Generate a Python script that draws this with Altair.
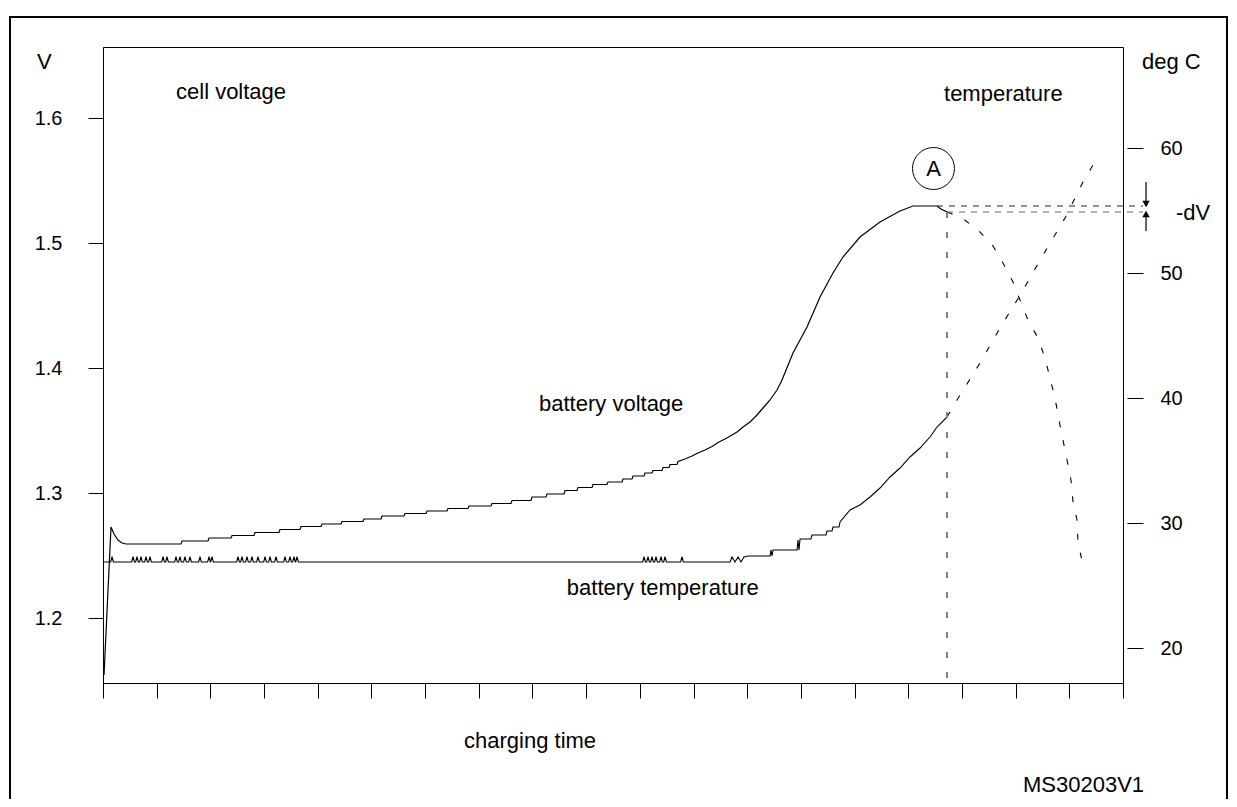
import altair as alt
import pandas as pd

FONT = "Liberation Sans"

# ---------------- data (x = charging time in tick units, 0..19) ----------------
volt_t = [0.019, 0.149, 0.205, 0.279, 0.354, 0.428, 1.453, 1.472, 1.956, 1.975,
          2.384, 2.403, 2.813, 2.831, 3.278, 3.297, 3.670, 3.688, 4.061, 4.079,
          4.433, 4.452, 4.843, 4.862, 5.178, 5.197, 5.607, 5.626, 6.017, 6.035,
          6.408, 6.427, 6.799, 6.818, 7.228, 7.246, 7.600, 7.619, 7.973, 7.991,
          8.252, 8.271, 8.587, 8.606, 8.829, 8.848, 9.109, 9.127, 9.388, 9.407,
          9.668, 9.686, 9.854, 9.873, 10.078, 10.096, 10.227, 10.245, 10.413, 10.431,
          10.543, 10.562, 10.692, 10.711, 10.841, 10.972, 11.083, 11.214, 11.344, 11.456,
          11.586, 11.717, 11.810, 11.922, 12.052, 12.183, 12.294, 12.425, 12.555, 12.648,
          12.853, 13.114, 13.356, 13.598, 13.784, 14.101, 14.473, 14.846, 15.088, 15.535,
          15.610, 15.722]
volt_v = [1.1544, 1.2728, 1.2672, 1.2624, 1.2600, 1.2592, 1.2592, 1.2616, 1.2616, 1.2640,
          1.2640, 1.2660, 1.2660, 1.2684, 1.2684, 1.2708, 1.2708, 1.2732, 1.2732, 1.2752,
          1.2752, 1.2772, 1.2772, 1.2792, 1.2792, 1.2816, 1.2816, 1.2836, 1.2836, 1.2856,
          1.2856, 1.2876, 1.2876, 1.2896, 1.2896, 1.2916, 1.2916, 1.2940, 1.2940, 1.2968,
          1.2968, 1.2992, 1.2992, 1.3020, 1.3020, 1.3044, 1.3044, 1.3068, 1.3068, 1.3088,
          1.3088, 1.3112, 1.3112, 1.3136, 1.3136, 1.3160, 1.3160, 1.3180, 1.3180, 1.3204,
          1.3204, 1.3228, 1.3228, 1.3252, 1.3272, 1.3296, 1.3320, 1.3344, 1.3372, 1.3404,
          1.3432, 1.3464, 1.3488, 1.3528, 1.3568, 1.3624, 1.3680, 1.3744, 1.3824, 1.3904,
          1.4120, 1.4328, 1.4568, 1.4760, 1.4888, 1.5048, 1.5168, 1.5256, 1.5296, 1.5296,
          1.5272, 1.5248]

# voltage after the peak (-dV), dashed
vdrop_t = [15.722, 16.001, 16.299, 16.578, 16.765, 16.951, 17.081, 17.230, 17.417, 17.547,
           17.640, 17.733, 17.808, 17.882, 17.957, 18.031, 18.069, 18.143, 18.162, 18.237]
vdrop_v = [1.5248, 1.5200, 1.5104, 1.4976, 1.4840, 1.4688, 1.4544, 1.4384, 1.4240, 1.4080,
           1.3920, 1.3760, 1.3584, 1.3424, 1.3264, 1.3104, 1.2928, 1.2784, 1.2608, 1.2456]

# temperature: flat baseline with small noise spikes, then rise
temp_base = 26.88
temp_spike = 27.3
temp_spike_t = [0.168, 0.559, 0.633, 0.708, 0.801, 0.876, 1.118, 1.192, 1.360, 1.434,
                1.527, 1.621, 1.807, 1.975, 2.030, 2.515, 2.589, 2.682, 2.775, 2.887,
                3.018, 3.111, 3.223, 3.390, 3.483, 3.558, 3.614, 10.078, 10.152, 10.227,
                10.301, 10.394, 10.469, 10.785]
temp_rise_t = [11.680, 11.717, 11.773, 11.829, 11.884, 11.940, 12.015, 12.425, 12.443, 12.462,
               12.481, 12.928, 12.946, 12.965, 12.984, 13.188, 13.207, 13.468, 13.487, 13.580,
               13.598, 13.710, 13.729, 13.915, 14.101, 14.288, 14.473, 14.660, 14.846, 15.032,
               15.219, 15.405, 15.535, 15.722]
temp_rise_T = [26.88, 27.28, 26.88, 27.28, 26.88, 27.28, 27.36, 27.36, 27.84, 27.36,
               27.84, 27.84, 28.64, 27.84, 28.72, 28.72, 29.04, 29.04, 29.36, 29.36,
               29.68, 29.68, 30.08, 31.04, 31.44, 32.08, 32.80, 33.68, 34.40, 35.28,
               36.00, 36.88, 37.68, 38.48]

# temperature continuation, dashed
tcont_t = [15.722, 15.908, 16.337, 16.709, 17.119, 17.510, 17.920, 18.255, 18.516]
tcont_T = [38.48, 39.84, 42.80, 45.60, 48.48, 51.44, 54.40, 57.28, 59.20]

# -dV reference lines
hline_group = ["peak", "peak", "now", "now"]
hline_t = [15.535, 19.373, 15.722, 19.373]
hline_v = [1.5296, 1.5296, 1.5248, 1.5248]
vline_t = [15.722]
vline_v = [1.5248]
vline_v2 = [1.148]

# arrows for -dV
arrow_t = [19.429, 19.429]
arrow_v1 = [1.5488, 1.5096]
arrow_v2 = [1.5330, 1.5215]
head_v = [1.5312, 1.5232]
head_shape = ["triangle-down", "triangle-up"]

# labels
label_text = ["V", "cell voltage", "temperature", "deg C", "battery voltage",
              "battery temperature", "charging time", "MS30203V1", "-dV"]
label_t = [-1.229, 1.360, 15.666, 19.354, 8.122, 8.640, 6.725, 17.137, 19.987]
label_v = [1.6448, 1.6208, 1.6192, 1.6448, 1.3712, 1.2240, 1.1016, 1.0664, 1.5240]
circle_t = [15.470]
circle_v = [1.5596]
circle_text = ["A"]

x_ticks = list(range(20))
v_ticks = [1.2, 1.3, 1.4, 1.5, 1.6]
t_ticks = [20, 30, 40, 50, 60]
X_DOMAIN = [0, 19]
V_DOMAIN = [1.148, 1.6568]
T_DOMAIN = [17.2, 68.08]

# ---------------- tables ----------------
assert len(volt_t) == len(volt_v)
assert len(vdrop_t) == len(vdrop_v)
assert len(temp_rise_t) == len(temp_rise_T)

volt_df = pd.DataFrame({"t": volt_t, "v": volt_v, "o": range(len(volt_t))})
vdrop_df = pd.DataFrame({"t": vdrop_t, "v": vdrop_v, "o": range(len(vdrop_t))})

tt, TT = [0.0], [temp_base]
for c in temp_spike_t:
    tt += [c - 0.025, c, c + 0.025]
    TT += [temp_base, temp_spike, temp_base]
tt += temp_rise_t
TT += temp_rise_T
temp_df = pd.DataFrame({"t": tt, "T": TT, "o": range(len(tt))})
tcont_df = pd.DataFrame({"t": tcont_t, "T": tcont_T, "o": range(len(tcont_t))})

hline_df = pd.DataFrame({"t": hline_t, "v": hline_v, "g": hline_group})
vline_df = pd.DataFrame({"t": vline_t, "v": vline_v, "v2": vline_v2})
arrow_df = pd.DataFrame({"t": arrow_t, "v": arrow_v1, "v2": arrow_v2,
                         "hv": head_v, "shape": head_shape})
label_df = pd.DataFrame({"t": label_t, "v": label_v, "text": label_text})
circle_df = pd.DataFrame({"t": circle_t, "v": circle_v, "text": circle_text})
border_df = pd.DataFrame({"k": [0]})

xs = alt.Scale(domain=X_DOMAIN, nice=False, zero=False)
vs = alt.Scale(domain=V_DOMAIN, nice=False, zero=False)
ts = alt.Scale(domain=T_DOMAIN, nice=False, zero=False)

x_axis = alt.Axis(values=x_ticks, labels=False, ticks=True, domain=True, tickSize=15,
                  title=None, grid=False, domainColor="black", tickColor="black",
                  orient="bottom")
v_axis = alt.Axis(values=v_ticks, format=".1f", tickSize=15, labelPadding=26, title=None,
                  grid=False, domainColor="black", tickColor="black", orient="left",
                  labelFont=FONT, labelFontSize=20, labelColor="black")
t_axis = alt.Axis(values=t_ticks, format="d", tickSize=16, labelPadding=17, title=None,
                  grid=False, domain=False, tickColor="black", orient="right", offset=4,
                  labelFont=FONT, labelFontSize=20, labelColor="black")

XA = alt.X("t:Q", scale=xs, axis=x_axis)
V0 = alt.Y("v:Q", scale=vs, axis=None)

volt_line = alt.Chart(volt_df).mark_line(color="black", strokeWidth=1.2).encode(
    x=XA, y=alt.Y("v:Q", scale=vs, axis=v_axis), order="o:Q")
vdrop_line = alt.Chart(vdrop_df).mark_line(color="black", strokeWidth=1.1,
                                           strokeDash=[6, 13]).encode(
    x=XA, y=V0, order="o:Q")
hlines = alt.Chart(hline_df).mark_line(strokeWidth=1.1, strokeDash=[6, 6]).encode(
    x=XA, y=V0, detail="g:N",
    color=alt.Color("g:N", scale=alt.Scale(domain=["peak", "now"], range=["#222222", "#666666"]),
                    legend=None),
)
vline = alt.Chart(vline_df).mark_rule(color="#808080", strokeWidth=2,
                                      strokeDash=[6, 14]).encode(
    x=XA, y=V0, y2="v2:Q")
arrows = alt.Chart(arrow_df).mark_rule(color="black", strokeWidth=1.2).encode(
    x=XA, y=V0, y2="v2:Q")
heads = alt.Chart(arrow_df).mark_point(filled=True, color="black", size=55, opacity=1).encode(
    x=XA, y=alt.Y("hv:Q", scale=vs, axis=None),
    shape=alt.Shape("shape:N", scale=alt.Scale(domain=["triangle-down", "triangle-up"],
                                               range=["triangle-down", "triangle-up"]),
                    legend=None),
)
labels = alt.Chart(label_df).mark_text(align="left", baseline="middle", font=FONT,
                                       fontSize=22, color="black").encode(
    x=XA, y=V0, text="text:N")
circle = alt.Chart(circle_df).mark_point(shape="circle", size=1764, filled=False,
                                         color="black", strokeWidth=1, opacity=1).encode(
    x=XA, y=V0)
circle_txt = alt.Chart(circle_df).mark_text(align="center", baseline="middle", font=FONT,
                                            fontSize=22, color="black").encode(
    x=XA, y=V0, text="text:N")
border = alt.Chart(border_df).mark_rect(fillOpacity=0, stroke="black", strokeWidth=2).encode(
    x=alt.value(-93), x2=alt.value(1124), y=alt.value(-30), y2=alt.value(800))

temp_line = alt.Chart(temp_df).mark_line(color="black", strokeWidth=1.1).encode(
    x=XA, y=alt.Y("T:Q", scale=ts, axis=t_axis), order="o:Q")
temp_cont = alt.Chart(tcont_df).mark_line(color="black", strokeWidth=1.1,
                                          strokeDash=[6, 13]).encode(
    x=XA, y=alt.Y("T:Q", scale=ts, axis=None), order="o:Q")

chart = alt.layer(
    volt_line, temp_line, vdrop_line, temp_cont, hlines, vline, arrows, heads,
    labels, circle, circle_txt, border
).resolve_scale(
    y="independent", color="independent", shape="independent"
).properties(
    width=1020, height=636,
    padding={"left": 95, "top": 39, "right": 106, "bottom": 116},
    autosize=alt.AutoSizeParams(type="none"),
    background="white",
).configure_view(
    stroke="black", strokeWidth=1
).configure_axis(
    labelFont=FONT, labelFontSize=20, labelColor="black", domainWidth=1, tickWidth=1,
    domainColor="black", tickColor="black"
)

chart.save("out.html", embed_options={"renderer": "svg", "actions": False})
